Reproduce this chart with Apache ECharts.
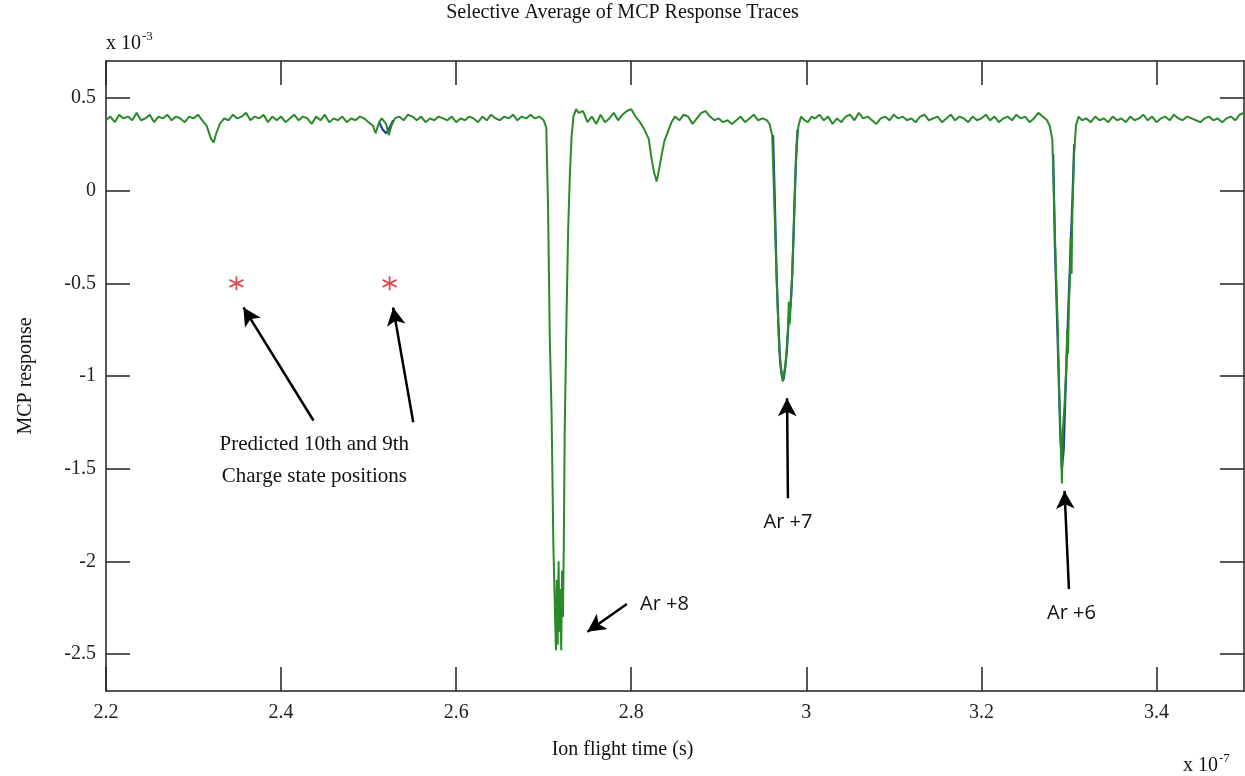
<!DOCTYPE html>
<html>
<head>
<meta charset="utf-8">
<script src="https://cdn.jsdelivr.net/npm/echarts@6/dist/echarts.min.js"></script>
<style>
html, body { margin: 0; padding: 0; background: #fff; }
#main { width: 1245px; height: 776px; }
</style>
</head>
<body>
<div id="main"></div>
<script>
// flight time in units of 1e-7 s, response in units of 1e-3
var flightTime = [
	2.200,2.205,2.210,2.215,2.220,2.225,2.230,2.235,2.240,2.245,2.250,2.255,2.260,2.265,2.270,2.275,2.280,2.285,2.290,2.295,
	2.300,2.305,2.310,2.315,2.320,2.323,2.326,2.330,2.335,2.340,2.345,2.350,2.355,2.360,2.365,2.370,2.375,2.380,2.385,2.390,
	2.395,2.400,2.405,2.410,2.415,2.420,2.425,2.430,2.435,2.440,2.445,2.450,2.455,2.460,2.465,2.470,2.475,2.480,2.485,2.490,
	2.495,2.500,2.505,2.508,2.512,2.515,2.520,2.523,2.526,2.530,2.535,2.540,2.545,2.550,2.555,2.560,2.565,2.570,2.575,2.580,
	2.585,2.590,2.595,2.600,2.605,2.610,2.615,2.620,2.625,2.630,2.635,2.640,2.645,2.650,2.655,2.660,2.665,2.670,2.675,2.680,
	2.685,2.690,2.695,2.700,2.703,2.705,2.707,2.709,2.711,2.713,2.714,2.715,2.716,2.717,2.718,2.719,2.720,2.721,2.722,2.723,
	2.724,2.726,2.728,2.730,2.732,2.734,2.737,2.740,2.745,2.750,2.755,2.760,2.765,2.770,2.775,2.780,2.785,2.790,2.795,2.800,
	2.805,2.810,2.815,2.820,2.823,2.826,2.829,2.832,2.835,2.838,2.842,2.846,2.850,2.855,2.860,2.865,2.870,2.875,2.880,2.885,
	2.890,2.895,2.900,2.905,2.910,2.915,2.920,2.925,2.930,2.935,2.940,2.945,2.950,2.955,2.958,2.961,2.963,2.965,2.967,2.969,
	2.971,2.973,2.975,2.977,2.979,2.980,2.981,2.983,2.985,2.987,2.989,2.991,2.994,2.998,3.002,3.006,3.010,3.015,3.020,3.025,
	3.030,3.035,3.040,3.045,3.050,3.055,3.060,3.065,3.070,3.075,3.080,3.085,3.090,3.095,3.100,3.105,3.110,3.115,3.120,3.125,
	3.130,3.135,3.140,3.145,3.150,3.155,3.160,3.165,3.170,3.175,3.180,3.185,3.190,3.195,3.200,3.205,3.210,3.215,3.220,3.225,
	3.230,3.235,3.240,3.245,3.250,3.255,3.260,3.265,3.270,3.275,3.278,3.281,3.283,3.285,3.287,3.289,3.291,3.292,3.293,3.295,
	3.297,3.298,3.299,3.300,3.301,3.302,3.303,3.304,3.306,3.308,3.311,3.315,3.320,3.325,3.330,3.335,3.340,3.345,3.350,3.355,
	3.360,3.365,3.370,3.375,3.380,3.385,3.390,3.395,3.400,3.405,3.410,3.415,3.420,3.425,3.430,3.435,3.440,3.445,3.450,3.455,
	3.460,3.465,3.470,3.475,3.480,3.485,3.490,3.495,3.500
];
var mcpGreen = [
	0.38,0.40,0.37,0.41,0.39,0.40,0.38,0.42,0.38,0.39,0.41,0.37,0.40,0.39,0.41,0.38,0.40,0.39,0.37,0.40,
	0.39,0.41,0.38,0.35,0.28,0.26,0.31,0.36,0.39,0.38,0.41,0.39,0.40,0.42,0.38,0.40,0.39,0.41,0.37,0.40,
	0.38,0.40,0.37,0.39,0.41,0.38,0.40,0.39,0.36,0.40,0.38,0.41,0.37,0.39,0.38,0.40,0.37,0.39,0.38,0.40,
	0.39,0.37,0.35,0.31,0.37,0.39,0.36,0.30,0.35,0.39,0.40,0.38,0.41,0.40,0.38,0.40,0.37,0.39,0.38,0.40,
	0.39,0.38,0.40,0.37,0.39,0.38,0.40,0.39,0.37,0.40,0.38,0.41,0.39,0.38,0.40,0.39,0.41,0.38,0.40,0.39,
	0.41,0.39,0.40,0.38,0.34,-0.10,-0.80,-1.20,-1.90,-2.30,-2.48,-2.10,-2.45,-2.00,-2.38,-2.15,-2.48,-2.05,-2.30,-1.90,
	-1.30,-0.70,-0.20,0.10,0.30,0.40,0.44,0.42,0.43,0.37,0.40,0.36,0.41,0.37,0.39,0.42,0.38,0.41,0.43,0.44,
	0.40,0.37,0.33,0.28,0.18,0.10,0.05,0.12,0.20,0.27,0.32,0.37,0.40,0.38,0.41,0.40,0.36,0.39,0.42,0.43,
	0.40,0.38,0.39,0.37,0.38,0.36,0.38,0.40,0.37,0.39,0.41,0.38,0.39,0.38,0.36,0.30,0.00,-0.30,-0.60,-0.85,
	-0.95,-1.03,-0.98,-0.90,-0.75,-0.60,-0.72,-0.55,-0.30,0.00,0.25,0.35,0.40,0.38,0.37,0.40,0.39,0.41,0.38,0.40,
	0.36,0.39,0.37,0.40,0.41,0.38,0.42,0.39,0.40,0.38,0.36,0.39,0.40,0.38,0.41,0.39,0.40,0.38,0.39,0.37,
	0.40,0.41,0.38,0.39,0.40,0.37,0.39,0.41,0.38,0.40,0.39,0.37,0.40,0.38,0.39,0.41,0.38,0.40,0.37,0.39,
	0.40,0.38,0.41,0.39,0.40,0.37,0.39,0.42,0.40,0.38,0.35,0.28,-0.05,-0.40,-0.70,-1.10,-1.40,-1.58,-1.30,-1.15,
	-0.95,-0.75,-0.88,-0.60,-0.50,-0.25,-0.45,-0.10,0.20,0.35,0.40,0.38,0.39,0.37,0.40,0.38,0.39,0.37,0.40,0.38,
	0.39,0.37,0.40,0.38,0.39,0.41,0.38,0.40,0.37,0.39,0.40,0.38,0.41,0.39,0.38,0.40,0.39,0.38,0.37,0.39,
	0.40,0.38,0.39,0.37,0.39,0.40,0.38,0.41,0.42
];
// second (blue) trace, only where it shows from under the green one
var blueTime = [2.512,2.516,2.520,2.524,2.528, 2.962,2.964,2.966,2.968,2.970,2.972,2.974,2.976,2.978,2.980,2.982,2.984,2.986,2.988,2.990,
	3.282,3.284,3.286,3.288,3.290,3.292,3.294,3.296,3.298,3.300,3.302,3.304,3.306];
var mcpBlue = [0.37,0.33,0.31,0.34,0.38, 0.30,-0.05,-0.45,-0.70,-0.92,-1.00,-1.02,-0.95,-0.85,-0.68,-0.62,-0.45,-0.15,0.15,0.33,
	0.20,-0.30,-0.62,-0.95,-1.30,-1.50,-1.40,-1.10,-0.82,-0.55,-0.30,-0.05,0.25];
var blueBreaks = [5, 20];

var xTicks = [2.2, 2.4, 2.6, 2.8, 3.0, 3.2, 3.4];
var yTicks = [-2.5, -2, -1.5, -1, -0.5, 0, 0.5];

// predicted 10th and 9th charge state positions
var predictedTime = [2.349, 2.524];
var predictedResp = [-0.5, -0.5];

var greenData = [];
for (var i = 0; i < flightTime.length; i++) {
	greenData.push([flightTime[i], mcpGreen[i]]);
}
var blueData = [];
for (var j = 0; j < blueTime.length; j++) {
	if (blueBreaks.indexOf(j) >= 0) {
		blueData.push([blueTime[j] - 0.001, null]);
	}
	blueData.push([blueTime[j], mcpBlue[j]]);
}
var starData = [];
for (var k = 0; k < predictedTime.length; k++) {
	starData.push([predictedTime[k], predictedResp[k]]);
}

var serif = '"Liberation Serif", "Times New Roman", serif';
var sans = '"Open Sans", "Liberation Sans", sans-serif';
var asterisk = 'path://M0,-5L0,5M-4.33,-2.5L4.33,2.5M-4.33,2.5L4.33,-2.5';

function arrow(x1, y1, x2, y2) {
	return [{ coord: [x1, y1] }, { coord: [x2, y2] }];
}
function note(x, y, text, font, size) {
	return {
		coord: [x, y],
		symbol: 'circle',
		symbolSize: 1,
		itemStyle: { color: 'rgba(0,0,0,0)' },
		label: { show: true, position: 'inside', formatter: text, fontFamily: font, fontSize: size, color: '#111', align: 'center', verticalAlign: 'middle' }
	};
}

var axisBase = {
	type: 'value',
	axisLine: { onZero: false, lineStyle: { color: '#222', width: 1.5 } },
	splitLine: { show: false }
};

var myChart = echarts.init(document.getElementById('main'));
var option = {
	animation: false,
	backgroundColor: '#fff',
	grid: { left: 106, right: 1, top: 61, bottom: 85 },
	graphic: [
		{ type: 'text', left: 'center', x: 53, top: 3, style: { text: 'Selective Average of MCP Response Traces', font: '20px ' + serif, fill: '#111' } },
		{ type: 'text', left: 106, top: 30, style: { text: 'x 10{s|-3}', font: '20px ' + serif, fill: '#111', rich: { s: { fontSize: 13, fontFamily: serif, verticalAlign: 'top', padding: [0, 0, 14, 1] } } } },
		{ type: 'text', left: 1183, top: 752, style: { text: 'x 10{s|-7}', font: '20px ' + serif, fill: '#111', rich: { s: { fontSize: 13, fontFamily: serif, verticalAlign: 'top', padding: [0, 0, 14, 1] } } } },
		{ type: 'text', left: 'center', x: 53, top: 740, style: { text: 'Ion flight time (s)', font: '20px ' + serif, fill: '#111' } },
		{ type: 'text', x: 26, y: 376, rotation: Math.PI / 2, style: { text: 'MCP response', font: '20px ' + serif, fill: '#111', align: 'center', verticalAlign: 'middle' } }
	],
	xAxis: [
		Object.assign({}, axisBase, {
			min: 2.2, max: 3.5, position: 'bottom',
			axisTick: { inside: true, length: 24, customValues: xTicks, lineStyle: { color: '#222', width: 1.5 } },
			axisLabel: { customValues: xTicks, margin: 12, fontFamily: serif, fontSize: 20, color: '#222' }
		}),
		Object.assign({}, axisBase, {
			min: 2.2, max: 3.5, position: 'top',
			axisTick: { inside: true, length: 24, customValues: xTicks, lineStyle: { color: '#222', width: 1.5 } },
			axisLabel: { show: false }
		})
	],
	yAxis: [
		Object.assign({}, axisBase, {
			min: -2.7, max: 0.7, position: 'left',
			axisTick: { inside: true, length: 24, customValues: yTicks, lineStyle: { color: '#222', width: 1.5 } },
			axisLabel: { customValues: yTicks, margin: 10, fontFamily: serif, fontSize: 20, color: '#222' }
		}),
		Object.assign({}, axisBase, {
			min: -2.7, max: 0.7, position: 'right',
			axisTick: { inside: true, length: 24, customValues: yTicks, lineStyle: { color: '#222', width: 1.5 } },
			axisLabel: { show: false }
		})
	],
	series: [
		{
			name: 'trace 2',
			type: 'line',
			data: blueData,
			showSymbol: false,
			connectNulls: false,
			lineStyle: { color: '#1f3d8c', width: 2.2 },
			z: 2
		},
		{
			name: 'trace 1',
			type: 'line',
			data: greenData,
			showSymbol: false,
			lineStyle: { color: '#2a8a2a', width: 2 },
			z: 3,
			markLine: {
				silent: true,
				symbol: ['none', 'arrow'],
				symbolSize: [14, 18],
				label: { show: false },
				lineStyle: { color: '#000', width: 2.5, type: 'solid' },
				data: [
					arrow(2.437, -1.24, 2.357, -0.63),
					arrow(2.551, -1.25, 2.528, -0.63),
					arrow(2.795, -2.23, 2.750, -2.38),
					arrow(2.979, -1.66, 2.978, -1.12),
					arrow(3.300, -2.15, 3.295, -1.62)
				]
			},
			markPoint: {
				silent: true,
				data: [
					note(2.438, -1.37, 'Predicted 10th and 9th', serif, 21),
					note(2.438, -1.54, 'Charge state positions', serif, 21),
					note(2.838, -2.23, 'Ar +8', sans, 20),
					note(2.979, -1.79, 'Ar +7', sans, 20),
					note(3.303, -2.28, 'Ar +6', sans, 20)
				]
			}
		},
		{
			name: 'predicted',
			type: 'scatter',
			data: starData,
			symbol: asterisk,
			symbolSize: 14,
			itemStyle: { color: 'none', borderColor: '#d0202a', borderWidth: 1.8 },
			z: 4
		}
	]
};
myChart.setOption(option);
</script>
</body>
</html>
